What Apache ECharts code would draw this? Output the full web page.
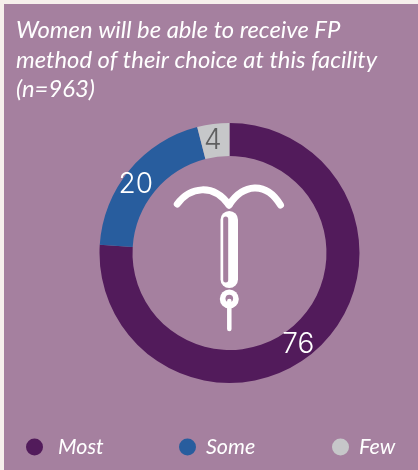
<!DOCTYPE html>
<html>
<head>
<meta charset="utf-8">
<style>
html, body { margin: 0; padding: 0; background: #f6f0ec; }
#main { width: 418px; height: 470px; }
</style>
<script src="https://cdn.jsdelivr.net/npm/echarts@6/dist/echarts.min.js"></script>
</head>
<body>
<div id="main"></div>
<script>
var categories = ['Most', 'Some', 'Few'];
var values = [76, 20, 4];
var colors = ['#521b5b', '#285d9e', '#c6c7c9'];
var labelColors = ['#ffffff', '#ffffff', '#5f5f60'];
var labelOffsets = [[-11, 7], [-4, 6], [-2, 3]];
var legendLefts = [21, 174, 327];
var legendGaps = [10, 5, 5];
var titleText = 'Women will be able to receive FP\nmethod of their choice at this facility\n(n=963)';

var panelColor = '#a5809f';
var chart = echarts.init(document.getElementById('main'));

var option = {
    animation: false,
    backgroundColor: '#f6f0ec',
    title: {
        text: titleText,
        left: 11,
        top: 11,
        textStyle: {
            color: '#ffffff',
            fontFamily: 'Lato',
            fontStyle: 'italic',
            fontWeight: 'normal',
            fontSize: 23.8,
            lineHeight: 29.5
        }
    },
    legend: categories.map(function (name, i) {
        return {
            data: [name],
            left: legendLefts[i],
            top: 431,
            icon: 'circle',
            itemWidth: 17,
            itemHeight: 17,
            itemGap: 0,
            selectedMode: false,
            textStyle: {
                color: '#ffffff',
                fontFamily: 'Lato',
                fontStyle: 'italic',
                fontSize: 21.5,
                padding: [0, 0, 0, legendGaps[i]]
            }
        };
    }),
    graphic: [
        // panel behind the chart
        { type: 'rect', z: -1, shape: { x: 4, y: 4, width: 414, height: 466 }, style: { fill: panelColor } },
        // IUD icon
        {
            type: 'bezierCurve', z: 5,
            shape: { x1: 177.3, y1: 204, cpx1: 190, cpy1: 187, cpx2: 213, cpy2: 183, x2: 229, y2: 205 },
            style: { fill: 'none', stroke: '#fff', lineWidth: 7, lineCap: 'round' }
        },
        {
            type: 'bezierCurve', z: 5,
            shape: { x1: 229, y1: 205, cpx1: 243, cpy1: 183.5, cpx2: 266, cpy2: 181, x2: 280.5, y2: 205 },
            style: { fill: 'none', stroke: '#fff', lineWidth: 7, lineCap: 'round' }
        },
        {
            type: 'rect', z: 5,
            shape: { x: 220.5, y: 211, width: 17.5, height: 77, r: 8.7 },
            style: { fill: '#fff' }
        },
        {
            type: 'rect', z: 6,
            shape: { x: 223.2, y: 216.5, width: 5, height: 66, r: 2.5 },
            style: { fill: panelColor }
        },
        {
            type: 'circle', z: 5,
            shape: { cx: 229.3, cy: 299, r: 9.5 },
            style: { fill: '#fff' }
        },
        {
            type: 'circle', z: 6,
            shape: { cx: 229.3, cy: 298.5, r: 3.8 },
            style: { fill: panelColor }
        },
        {
            type: 'line', z: 7,
            shape: { x1: 229.3, y1: 301, x2: 229.3, y2: 329 },
            style: { stroke: '#fff', lineWidth: 4.5, lineCap: 'round' }
        }
    ],
    series: [
        {
            name: 'FP method',
            type: 'pie',
            center: [229.5, 253],
            radius: [97, 130],
            startAngle: 90,
            clockwise: true,
            silent: true,
            label: {
                show: true,
                position: 'inside',
                formatter: '{c}',
                fontFamily: 'Inter',
                fontWeight: 300,
                fontSize: 28
            },
            labelLine: { show: false },
            data: categories.map(function (name, i) {
                return {
                    name: name,
                    value: values[i],
                    itemStyle: { color: colors[i] },
                    label: { color: labelColors[i], offset: labelOffsets[i] }
                };
            })
        }
    ]
};

chart.setOption(option);
</script>
</body>
</html>
